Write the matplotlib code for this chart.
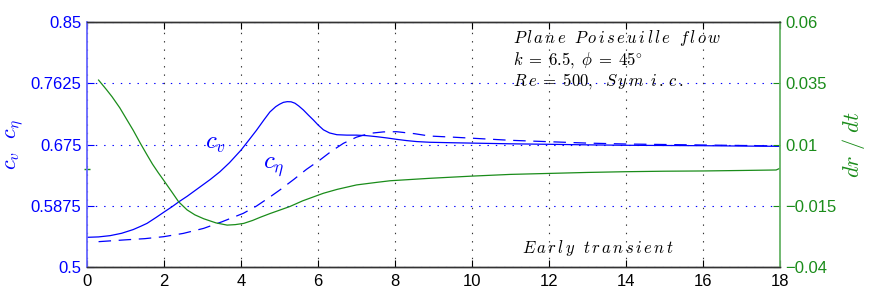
import matplotlib
matplotlib.use("Agg")
import matplotlib.pyplot as plt

# ---- data ----
t_cv = [0.0, 0.3, 0.6, 0.9, 1.2, 1.4, 1.56, 1.8, 2.0, 2.2, 2.4, 2.6, 2.8, 3.0, 3.2, 3.45,
        3.7, 4.0, 4.2, 4.4, 4.6, 4.75, 4.9, 5.0, 5.1, 5.2, 5.3, 5.4, 5.5, 5.62, 5.75, 5.88,
        6.0, 6.14, 6.3, 6.49, 6.75, 7.0, 7.25, 7.52, 7.8, 8.04, 8.3, 8.56, 8.9, 9.5, 10.0,
        11.0, 12.0, 13.0, 14.0, 15.0, 16.0, 17.0, 18.0]
c_v = [0.5424, 0.5430, 0.5448, 0.5482, 0.5535, 0.5583, 0.5624, 0.5710, 0.5785, 0.5858,
       0.5937, 0.6010, 0.6090, 0.6170, 0.6250, 0.6360, 0.6490, 0.6670, 0.6810, 0.6952,
       0.7105, 0.7215, 0.7290, 0.7325, 0.7352, 0.7362, 0.7360, 0.7340, 0.7300, 0.7243,
       0.7170, 0.7100, 0.7030, 0.6960, 0.6915, 0.6890, 0.6884, 0.6884, 0.6877, 0.6862,
       0.6843, 0.6824, 0.6806, 0.6792, 0.6782, 0.6775, 0.6770, 0.6760, 0.6753, 0.6745,
       0.6739, 0.6736, 0.6733, 0.6728, 0.6724]

t_ce = [0.3, 1.0, 1.5, 1.99, 2.5, 3.03, 3.5, 4.06, 4.4, 4.75, 5.02, 5.38, 5.7, 6.05, 6.35,
        6.66, 7.0, 7.35, 7.7, 8.04, 8.5, 8.9, 9.5, 10.0, 11.0, 12.0, 13.0, 14.0, 15.0,
        16.0, 17.0, 18.0]
c_eta = [0.5362, 0.5388, 0.5405, 0.5433, 0.5480, 0.5552, 0.5645, 0.5767, 0.5870, 0.6000,
         0.6105, 0.6255, 0.6395, 0.6529, 0.6655, 0.6767, 0.6855, 0.6910, 0.6930, 0.6933,
         0.6905, 0.6871, 0.6855, 0.6840, 0.6810, 0.6790, 0.6770, 0.6757, 0.6750, 0.6743,
         0.6736, 0.6729]

t_dr = [0.3, 0.5, 0.65, 0.85, 1.04, 1.2, 1.385, 1.55, 1.7, 1.85, 2.0, 2.2, 2.38, 2.6, 2.8,
        3.03, 3.35, 3.64, 3.85, 4.07, 4.3, 4.5, 4.75, 5.02, 5.27, 5.6, 6.14, 6.5, 7.0, 7.5,
        7.87, 8.9, 10.0, 11.0, 12.0, 13.0, 14.0, 15.0, 16.0, 17.0, 17.9, 18.0]
dr_dt = [0.0363, 0.0325, 0.0295, 0.0250, 0.0200, 0.0158, 0.0105, 0.0060, 0.0020, -0.0015,
         -0.0048, -0.0093, -0.0134, -0.0167, -0.0187, -0.0203, -0.0220, -0.0229, -0.0227,
         -0.0222, -0.0210, -0.0197, -0.0182, -0.0167, -0.0153, -0.0130, -0.0099, -0.0083,
         -0.0065, -0.0055, -0.0048, -0.0038, -0.0029, -0.0022, -0.0018, -0.0014, -0.0011,
         -0.0009, -0.0008, -0.0006, -0.0004, 0.0003]
dr_t0 = [0.0]
dr_v0 = [0.0001]

x_ticks = [0, 2, 4, 6, 8, 10, 12, 14, 16, 18]
left_ticks = [0.5, 0.5875, 0.675, 0.7625, 0.85]
left_labels = ["0.5", "0.5875", "0.675", "0.7625", "0.85"]
right_ticks = [-0.04, -0.015, 0.01, 0.035, 0.06]
right_labels = ["\u22120.04", "\u22120.015", "0.01", "0.035", "0.06"]

BLUE = "#0000ff"
GREEN = "#1a8c1a"

plt.rcParams["font.family"] = ["Liberation Sans", "DejaVu Sans"]
plt.rcParams["mathtext.fontset"] = "cm"
plt.rcParams["lines.scale_dashes"] = False

fig = plt.figure(figsize=(8.72, 2.99), dpi=100)
ax = fig.add_axes([0.0998, 0.107, 0.7947, 0.8194])
ax2 = ax.twinx()

ax.plot(t_cv, c_v, color=BLUE, lw=0.9)
ax.plot(t_ce, c_eta, color=BLUE, lw=0.9, dashes=(9, 5.5))
ax2.plot(t_dr, dr_dt, color=GREEN, lw=0.9)
ax2.plot(dr_t0, dr_v0, color=GREEN, marker="_", ms=4, mew=1.0, ls="none", clip_on=False)

ax.set_xlim(0, 18)
ax.set_ylim(0.5, 0.85)
ax2.set_ylim(-0.04, 0.06)
ax.set_xticks(x_ticks)
ax.set_xticklabels([str(v) for v in x_ticks])
ax.set_yticks(left_ticks)
ax.set_yticklabels(left_labels)
ax2.set_yticks(right_ticks)
ax2.set_yticklabels(right_labels)

dot = (0, (1, 5))
ax.grid(axis="x", color="#333333", linestyle=dot, lw=0.8)
ax.grid(axis="y", color=BLUE, linestyle=dot, lw=0.8)

ax.tick_params(axis="x", direction="in", top=True, length=5, labelsize=12, colors="black", pad=5)
ax.tick_params(axis="y", direction="in", right=False, length=5, labelsize=12,
               colors=BLUE, pad=4)
ax2.tick_params(axis="y", direction="in", length=5, labelsize=12, colors=GREEN, pad=4)

for a in (ax, ax2):
    a.spines["top"].set_color("#333333")
    a.spines["bottom"].set_color("#333333")
    a.spines["top"].set_linewidth(1.0)
    a.spines["bottom"].set_linewidth(1.0)
ax2.spines["left"].set_color("#6666ff")
ax2.spines["left"].set_linewidth(1.3)
ax2.spines["right"].set_color("#66b366")
ax2.spines["right"].set_linewidth(1.3)
ax.spines["left"].set_visible(False)
ax.spines["right"].set_visible(False)

ax.set_ylabel(r"$c_v\ \ c_\eta$", color=BLUE, fontsize=16, labelpad=4)
ax2.set_ylabel(r"$dr\ /\ dt$", color=GREEN, fontsize=16, labelpad=2)

ax.text(3.06, 0.6776, r"$c_v$", color=BLUE, fontsize=18, ha="left", va="center")
ax.text(4.57, 0.643, r"$c_\eta$", color=BLUE, fontsize=18, ha="left", va="center")

ax.text(11.06, 0.827, r"$P\,l\,a\,n\,e\ \ P\,o\,i\,s\,e\,u\,i\,l\,l\,e\ \ f\,l\,o\,w$",
        fontsize=12, ha="left", va="center")
ax.text(11.06, 0.796, r"$k\;=\;6.5,\;\phi\;=\;45^{\circ}$", fontsize=12,
        ha="left", va="center")
ax.text(11.06, 0.766, r"$R\,e\;=\;500,\ \ S\,y\,m\ \,i\,.\,c\,.$", fontsize=12,
        ha="left", va="center")
ax.text(11.3, 0.527, r"$E\,a\,r\,l\,y\ \ t\,r\,a\,n\,s\,i\,e\,n\,t$", fontsize=12,
        ha="left", va="center")

fig.savefig("out.png", dpi=100)
